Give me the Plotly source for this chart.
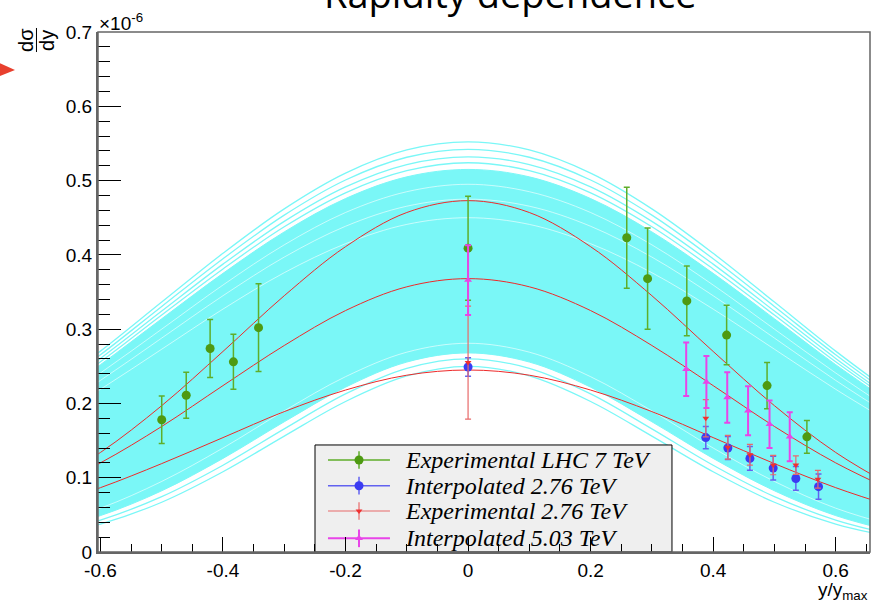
import plotly.graph_objects as go

# ---------------------------------------------------------------- data
# rapidity grid on which the model curves are tabulated (y / y_max)
X_GRID = [-0.7, -0.6, -0.5, -0.4, -0.3, -0.2, -0.1, 0.0, 0.1, 0.2, 0.3, 0.4, 0.5, 0.6, 0.7]

# model ensemble (units of 1e-6): filled envelope of the dense members
BAND_HI = [0.1952, 0.2522, 0.314, 0.3751, 0.4309, 0.4758, 0.505, 0.515, 0.505, 0.4758, 0.4309, 0.3751, 0.314, 0.2522, 0.1952]
BAND_LO = [0.0266, 0.049, 0.0824, 0.126, 0.1753, 0.2219, 0.2557, 0.268, 0.2557, 0.2219, 0.1753, 0.126, 0.0824, 0.049, 0.0266]
# gaps between neighbouring members inside the envelope
GAP_CURVES = [
    [0.169, 0.219, 0.273, 0.327, 0.376, 0.415, 0.441, 0.450, 0.441, 0.415, 0.376, 0.327, 0.273, 0.219, 0.169],
    [0.178, 0.231, 0.288, 0.345, 0.397, 0.4385, 0.4655, 0.475, 0.4655, 0.4385, 0.397, 0.345, 0.288, 0.231, 0.178],
    [0.1857, 0.241, 0.300, 0.3594, 0.4135, 0.457, 0.485, 0.495, 0.485, 0.457, 0.4135, 0.3594, 0.300, 0.241, 0.1857],
    [0.034, 0.059, 0.095, 0.140, 0.190, 0.236, 0.269, 0.281, 0.269, 0.236, 0.190, 0.140, 0.095, 0.059, 0.034],
]
# isolated outer members
OUTER_MEMBERS = [
    [0.1985, 0.2560, 0.3190, 0.3810, 0.4378, 0.4835, 0.5133, 0.524, 0.5133, 0.4835, 0.4378, 0.3810, 0.3190, 0.2560, 0.1985],
    [0.2016, 0.2606, 0.3243, 0.3875, 0.4451, 0.4915, 0.5216, 0.532, 0.5216, 0.4915, 0.4451, 0.3875, 0.3243, 0.2606, 0.2016],
    [0.2055, 0.2655, 0.3305, 0.3948, 0.4535, 0.5008, 0.5314, 0.542, 0.5314, 0.5008, 0.4535, 0.3948, 0.3305, 0.2655, 0.2055],
    [0.2092, 0.2704, 0.3365, 0.4021, 0.4619, 0.510, 0.5412, 0.552, 0.5412, 0.510, 0.4619, 0.4021, 0.3365, 0.2704, 0.2092],
    [0.022, 0.043, 0.0745, 0.1168, 0.1658, 0.2129, 0.2473, 0.260, 0.2473, 0.2129, 0.1658, 0.1168, 0.0745, 0.043, 0.022],
    [0.019, 0.0376, 0.067, 0.108, 0.156, 0.2026, 0.237, 0.250, 0.237, 0.2026, 0.156, 0.108, 0.067, 0.0376, 0.019],
]

# highlighted model curves
RED_HIGH = [0.085, 0.134, 0.197, 0.270, 0.345, 0.411, 0.457, 0.473, 0.457, 0.411, 0.345, 0.270, 0.197, 0.134, 0.085]
RED_MID = [0.080, 0.120, 0.169, 0.224, 0.278, 0.325, 0.357, 0.368, 0.357, 0.325, 0.278, 0.224, 0.169, 0.120, 0.080]
RED_LOW = [0.0594, 0.0866, 0.119, 0.154, 0.189, 0.218, 0.238, 0.245, 0.238, 0.218, 0.189, 0.154, 0.119, 0.0866, 0.0594]

# measurements
LHC7_X = [-0.5, -0.46, -0.421, -0.383, -0.342, 0.0, 0.259, 0.293, 0.357, 0.422, 0.488, 0.553]
LHC7_Y = [0.178, 0.211, 0.274, 0.256, 0.302, 0.409, 0.423, 0.368, 0.338, 0.292, 0.224, 0.155]
LHC7_ERR = [0.032, 0.031, 0.039, 0.037, 0.059, 0.070, 0.068, 0.068, 0.047, 0.040, 0.031, 0.022]

INT276_X = [0.0, 0.388, 0.424, 0.460, 0.498, 0.535, 0.572]
INT276_Y = [0.249, 0.154, 0.140, 0.126, 0.113, 0.099, 0.088]
INT276_ERR = [0.0125, 0.015, 0.0155, 0.016, 0.016, 0.016, 0.017]

EXP276_X = [0.0, 0.388, 0.424, 0.460, 0.498, 0.535, 0.571]
EXP276_Y = [0.255, 0.180, 0.141, 0.131, 0.117, 0.117, 0.098]
EXP276_ERR = [0.076, 0.025, 0.016, 0.014, 0.013, 0.0125, 0.012]

INT503_X = [0.0, 0.356, 0.389, 0.423, 0.457, 0.492, 0.525]
INT503_Y = [0.366, 0.246, 0.229, 0.208, 0.190, 0.172, 0.155]
INT503_ERR = [0.047, 0.036, 0.035, 0.034, 0.033, 0.032, 0.033]

X_TICKS = [-0.6, -0.4, -0.2, 0.0, 0.2, 0.4, 0.6]
X_TICK_TEXT = ["-0.6", "-0.4", "-0.2", "0", "0.2", "0.4", "0.6"]
Y_TICKS = [0.0, 0.1, 0.2, 0.3, 0.4, 0.5, 0.6, 0.7]
Y_TICK_TEXT = ["0", "0.1", "0.2", "0.3", "0.4", "0.5", "0.6", "0.7"]

LEGEND_LABELS = ["Experimental LHC 7 TeV", "Interpolated 2.76 TeV",
                 "Experimental 2.76 TeV", "Interpolated 5.03 TeV"]

# ---------------------------------------------------------------- styles
CYAN = "#7af7f7"
RED = "#ee2a2a"
GREEN = "#4e9a12"
GREEN_BAR = "#5fae2a"
BLUE = "#3b3bf2"
BLUE_BAR = "#6262f0"
RED_PT = "#f03030"
RED_BAR = "#e86a6a"
MAGENTA = "#e845e8"
SANS = "Liberation Sans"

fig = go.Figure()

# model band: filled envelope
fig.add_trace(go.Scatter(x=X_GRID, y=BAND_LO, mode="lines",
                         line=dict(color=CYAN, width=1, shape="spline"), hoverinfo="skip"))
fig.add_trace(go.Scatter(x=X_GRID, y=BAND_HI, mode="lines", fill="tonexty", fillcolor=CYAN,
                         line=dict(color=CYAN, width=1, shape="spline"), hoverinfo="skip"))
# thin gaps between members
for gap in GAP_CURVES:
    fig.add_trace(go.Scatter(x=X_GRID, y=gap, mode="lines",
                             line=dict(color="rgba(255,255,255,0.75)", width=0.8, shape="spline"),
                             hoverinfo="skip"))
# isolated outer members
for member in OUTER_MEMBERS:
    fig.add_trace(go.Scatter(x=X_GRID, y=member, mode="lines",
                             line=dict(color=CYAN, width=1.3, shape="spline"), hoverinfo="skip"))

# highlighted curves
for curve in (RED_HIGH, RED_MID, RED_LOW):
    fig.add_trace(go.Scatter(x=X_GRID, y=curve, mode="lines",
                             line=dict(color=RED, width=1, shape="spline"), hoverinfo="skip"))

# measurements with error bars
fig.add_trace(go.Scatter(x=LHC7_X, y=LHC7_Y, mode="markers",
                         marker=dict(symbol="circle", size=9, color=GREEN),
                         error_y=dict(type="data", array=LHC7_ERR, color=GREEN_BAR,
                                      thickness=1.5, width=3)))
fig.add_trace(go.Scatter(x=INT276_X, y=INT276_Y, mode="markers",
                         marker=dict(symbol="circle", size=9, color=BLUE),
                         error_y=dict(type="data", array=INT276_ERR, color=BLUE_BAR,
                                      thickness=1.5, width=3)))
fig.add_trace(go.Scatter(x=EXP276_X, y=EXP276_Y, mode="markers",
                         marker=dict(symbol="triangle-down", size=6, color=RED_PT),
                         error_y=dict(type="data", array=EXP276_ERR, color=RED_BAR,
                                      thickness=1.2, width=3)))
fig.add_trace(go.Scatter(x=INT503_X, y=INT503_Y, mode="markers",
                         marker=dict(symbol="triangle-up", size=7, color=MAGENTA),
                         error_y=dict(type="data", array=INT503_ERR, color=MAGENTA,
                                      thickness=2, width=3)))

# ---------------------------------------------------------------- legend box (overlay axes 0..1)
LX0, LX1, LY0, LY1 = 0.2811, 0.7435, 0.0, 0.2058
fig.add_trace(go.Scatter(x=[LX0, LX1, LX1, LX0, LX0], y=[LY0, LY0, LY1, LY1, LY0],
                         mode="lines", fill="toself", fillcolor="#efefef",
                         line=dict(color="black", width=1), xaxis="x2", yaxis="y2",
                         hoverinfo="skip"))
row_y = [0.1769, 0.1275, 0.0788, 0.0263]
row_style = [
    (GREEN_BAR, GREEN, "circle", 9, 1.5),
    (BLUE_BAR, BLUE, "circle", 9, 1.5),
    (RED_BAR, RED_PT, "triangle-down", 6, 1.2),
    (MAGENTA, MAGENTA, "triangle-up", 7, 2.0),
]
for ry, (lc, mc, sym, msz, lw) in zip(row_y, row_style):
    fig.add_trace(go.Scatter(x=[0.2979, 0.3782], y=[ry, ry], mode="lines",
                             line=dict(color=lc, width=lw), xaxis="x2", yaxis="y2", hoverinfo="skip"))
    fig.add_trace(go.Scatter(x=[0.3381, 0.3381], y=[ry - 0.017, ry + 0.017], mode="lines",
                             line=dict(color=lc, width=lw), xaxis="x2", yaxis="y2", hoverinfo="skip"))
    fig.add_trace(go.Scatter(x=[0.3381], y=[ry], mode="markers",
                             marker=dict(symbol=sym, size=msz, color=mc),
                             xaxis="x2", yaxis="y2", hoverinfo="skip"))

annotations = []
for ry, label in zip(row_y, LEGEND_LABELS):
    annotations.append(dict(x=0.3951, y=ry, xref="paper", yref="paper", xanchor="left",
                            yanchor="middle", text="<i>" + label + "</i>", showarrow=False,
                            font=dict(family="Liberation Serif", size=24, color="black")))

# title, axis titles, exponent
annotations += [
    dict(x=0.5349, y=1.0754, xref="paper", yref="paper", xanchor="center", yanchor="middle",
         text="Rapidity dependence", showarrow=False,
         font=dict(family="Open Sans", size=38, color="black")),
    dict(x=-0.0013, y=1.0192, xref="paper", yref="paper", xanchor="left", yanchor="middle",
         text="×10<sup>-6</sup>", showarrow=False,
         font=dict(family=SANS, size=19, color="black")),
    dict(x=-0.0933, y=0.9846, xref="paper", yref="paper", xanchor="center", yanchor="middle",
         text="dσ", textangle=-90, showarrow=False,
         font=dict(family=SANS, size=20, color="black")),
    dict(x=-0.0661, y=0.9846, xref="paper", yref="paper", xanchor="center", yanchor="middle",
         text="dy", textangle=-90, showarrow=False,
         font=dict(family=SANS, size=20, color="black")),
    dict(x=1.0, y=-0.048, xref="paper", yref="paper", xanchor="right", yanchor="top",
         text="y/y<sub>max</sub>", showarrow=False,
         font=dict(family=SANS, size=19, color="black")),
]

shapes = [
    # frame around the plot area
    dict(type="rect", xref="paper", yref="paper", x0=0, x1=1, y0=0, y1=1,
         line=dict(color="#666666", width=1.5), fillcolor="rgba(0,0,0,0)", layer="above"),
    # fraction bar of dσ/dy
    dict(type="line", xref="paper", yref="paper", x0=-0.0797, x1=-0.0797, y0=1.0077, y1=0.9615,
         line=dict(color="black", width=1)),
    # red pointer at the left margin
    dict(type="path", xref="paper", yref="paper",
         path="M -0.1270 0.9398 L -0.1075 0.9269 L -0.1270 0.9154 Z",
         fillcolor="#e8402e", line=dict(width=0)),
]

axis_common = dict(showgrid=False, zeroline=False, showline=True, linecolor="#666666",
                   linewidth=2, mirror=False, ticks="inside", tickcolor="black", tickwidth=1,
                   tickfont=dict(family=SANS, size=19, color="black"))

fig.update_layout(
    width=881, height=607,
    margin=dict(l=98, r=11, t=32, b=55),
    paper_bgcolor="white", plot_bgcolor="white",
    showlegend=False,
    xaxis=dict(range=[-0.604, 0.656], tickmode="array", tickvals=X_TICKS, ticktext=X_TICK_TEXT,
               ticklen=15,
               minor=dict(tickmode="linear", tick0=0, dtick=0.05, ticks="inside", ticklen=8,
                          tickcolor="black", showgrid=False),
               **axis_common),
    yaxis=dict(range=[0, 0.7], tickmode="array", tickvals=Y_TICKS, ticktext=Y_TICK_TEXT,
               ticklen=23,
               minor=dict(tickmode="linear", tick0=0, dtick=0.02, ticks="inside", ticklen=12,
                          tickcolor="black", showgrid=False),
               **axis_common),
    xaxis2=dict(overlaying="x", range=[0, 1], visible=False, fixedrange=True),
    yaxis2=dict(overlaying="y", range=[0, 1], visible=False, fixedrange=True),
    annotations=annotations,
    shapes=shapes,
)

fig.write_html("out.html")
